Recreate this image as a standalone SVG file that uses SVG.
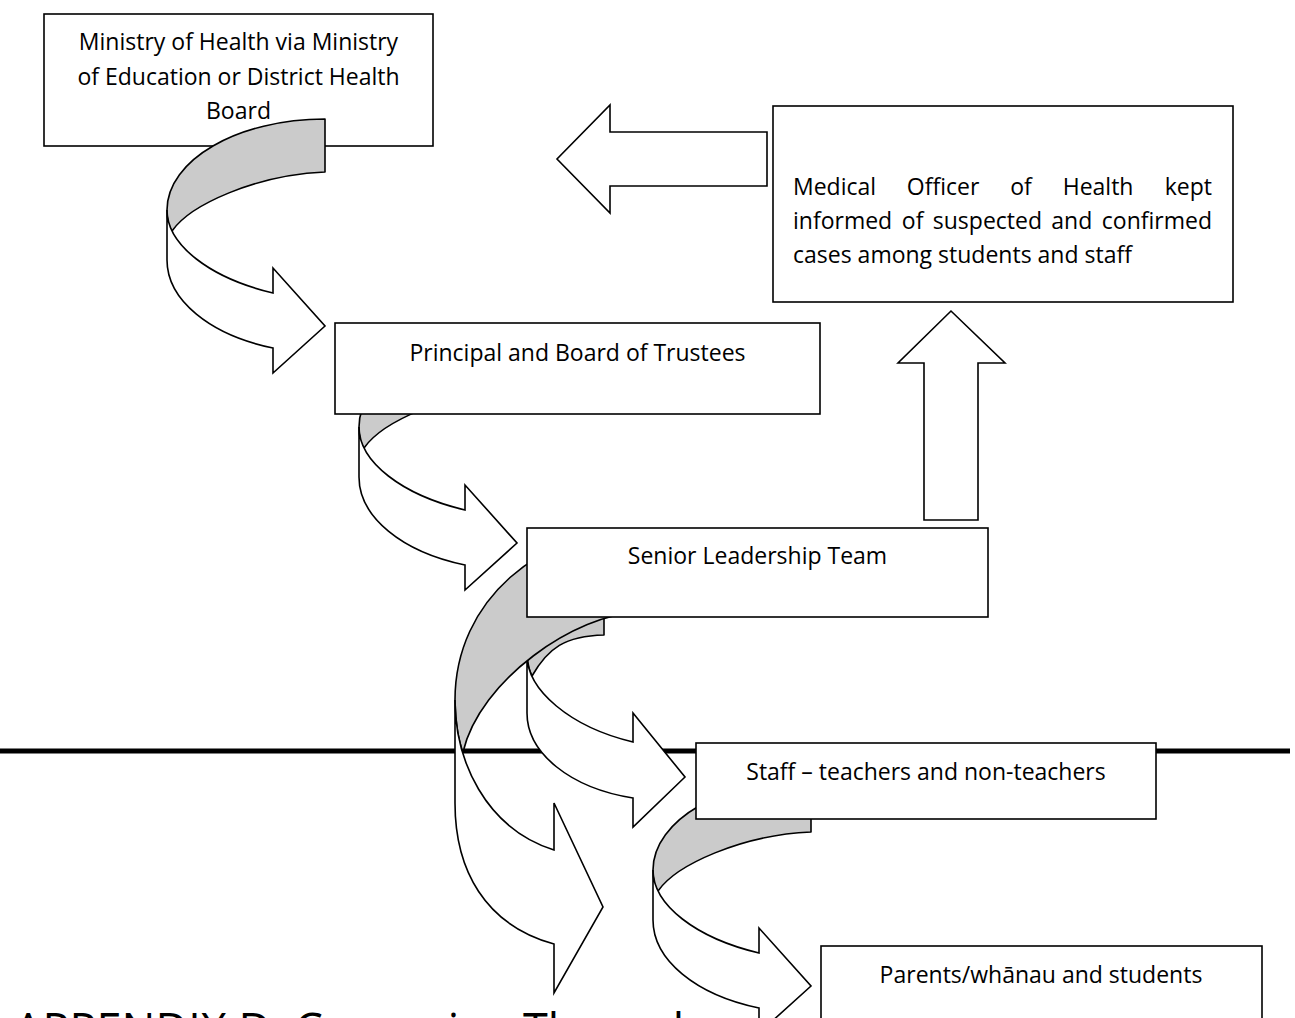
<svg xmlns="http://www.w3.org/2000/svg" width="1295" height="1018" viewBox="0 0 1295 1018">
<style>
.box{fill:#fff;stroke:#000;stroke-width:1.6}
.t{font-family:"Open Sans","Liberation Sans",sans-serif;font-size:23px;fill:#000}
.c{text-anchor:middle}
.gray{fill:#cbcbcb;stroke:#000;stroke-width:1.6;stroke-linejoin:round}
.front{fill:#fff;stroke:#000;stroke-width:1.6}
.sep{stroke:#000;stroke-width:5;fill:none}
.head{font-family:"Open Sans","Liberation Sans",sans-serif;font-size:45px;fill:#000}
</style>
<defs>
<g id="curved">
<path class="gray" d="M325,119 C238,119 167,160 167,210 Q167,225 172,231 C190,205 255,175 325,172 Z"/>
<path class="front" d="M167,210 L167,260 C167,300 210,335 273,348 L273,373 L325,326 L273,268 L273,293 C210,278 167,245 167,210 Z"/>
</g>
</defs>
<rect width="1295" height="1018" fill="#fff"/>
<text class="head" x="14" y="1046">APPENDIX D: Conveying Through</text>
<g id="node-ministry">
<rect class="box" x="44" y="14" width="389" height="132"/>
<text class="t c" x="238.5" y="50">Ministry of Health via Ministry</text>
<text class="t c" x="238.5" y="84.5">of Education or District Health</text>
<text class="t c" x="238.5" y="119">Board</text>
</g>
<g id="connectors">
<use id="arrow-ministry-principal" href="#curved"/>
<use id="arrow-principal-senior" href="#curved" transform="translate(192,217)"/>
<path class="sep" d="M0,751 H1290"/>
<g id="arrow-senior-staff">
<path class="gray" d="M604,575 C560,575 527,610 527,655 Q528,668 532,676 C548,648 565,636 604,635 Z"/>
<path class="front" d="M527,655 L527,713 C527,753 570,788 633,798 L633,827 L685,777 L633,713 L633,742 C570,727 527,690 527,655 Z"/>
</g>
<g id="arrow-senior-parents">
<path class="gray" d="M640,530 C540,530 455,600 455,700 Q456,735 463,752 C480,680 575,614 640,612 Z"/>
<path class="front" d="M455,700 L455,803 C455,870 485,925 554,944 L554,993 L603,907 L554,803 L554,850 C485,828 455,760 455,700 Z"/>
</g>
<use id="arrow-staff-parents" href="#curved" transform="translate(486,660)"/>
<path id="arrow-medical-ministry" class="front" d="M767,132 L610,132 L610,105 L557,159 L610,213 L610,186 L767,186 Z"/>
<path id="arrow-senior-medical" class="front" d="M924,520 L924,363 L898,363 L951,311 L1005,363 L978,363 L978,520 Z"/>
</g>
<g id="node-principal">
<rect class="box" x="335" y="323" width="485" height="91"/>
<text class="t c" x="577.5" y="361">Principal and Board of Trustees</text>
</g>
<g id="node-senior">
<rect class="box" x="527" y="528" width="461" height="89"/>
<text class="t c" x="757.5" y="564">Senior Leadership Team</text>
</g>
<g id="node-staff">
<rect class="box" x="696" y="743" width="460" height="76"/>
<text class="t c" x="926" y="780">Staff – teachers and non-teachers</text>
</g>
<g id="node-parents">
<rect class="box" x="821" y="946" width="441" height="90"/>
<text class="t c" x="1041" y="983">Parents/whānau and students</text>
</g>
<g id="node-medical">
<rect class="box" x="773" y="106" width="460" height="196"/>
<text class="t" y="195"><tspan x="793">Medical</tspan><tspan x="906.8">Officer</tspan><tspan x="1010.2">of</tspan><tspan x="1062.7">Health</tspan><tspan x="1212" text-anchor="end">kept</tspan></text>
<text class="t" y="229"><tspan x="793">informed</tspan><tspan x="901.8">of</tspan><tspan x="932.8">suspected</tspan><tspan x="1051.3">and</tspan><tspan x="1212" text-anchor="end">confirmed</tspan></text>
<text class="t" x="793" y="263">cases among students and staff</text>
</g>
</svg>
